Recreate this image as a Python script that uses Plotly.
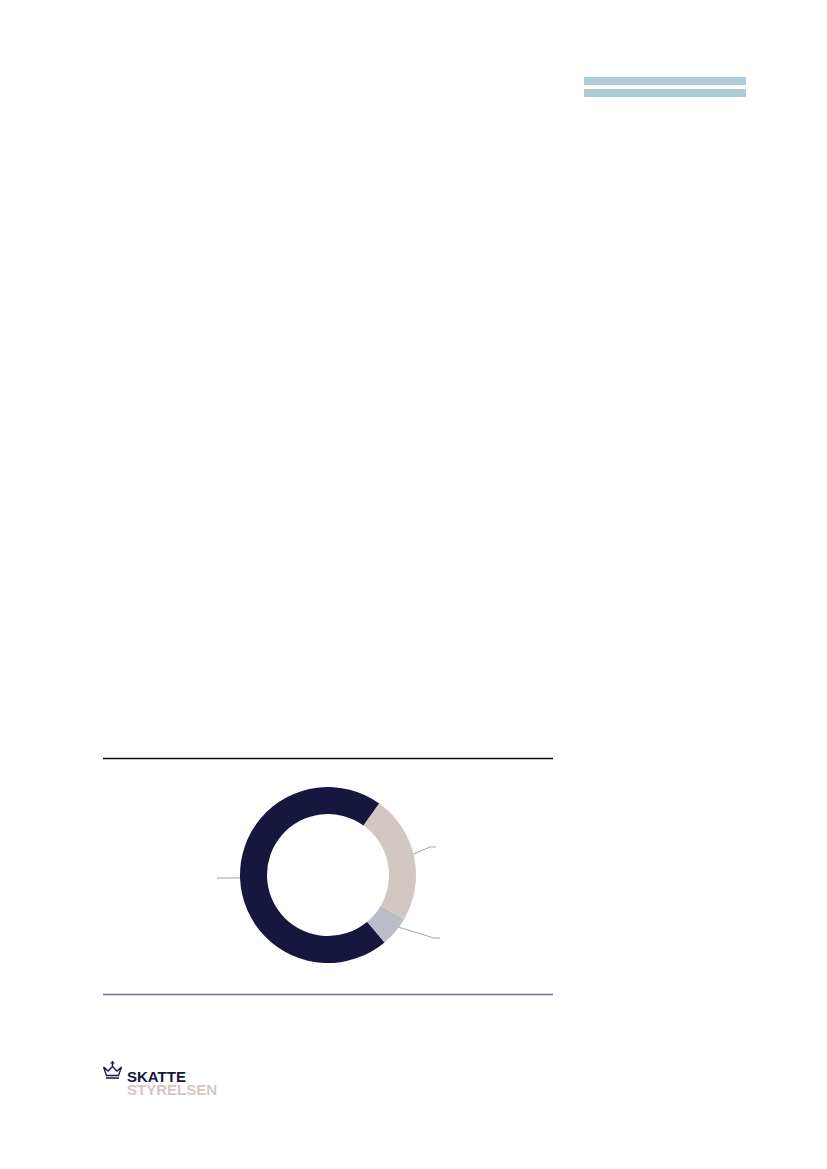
import numpy as np
import plotly.graph_objects as go

# data
labels = ["Kategori 1", "Kategori 2", "Kategori 3"]
values = [71.0, 23.5, 5.5]
colors = ["#16163f", "#d3c7c4", "#bbbcca"]

W, H = 827, 1169
OFF = 8  # the page body has an 8px margin, so work in page pixels
cx, cy, R_out, R_in = 328, 875, 88, 61
rotation = 140

# where the leader lines end (label anchors, page px)
anchors = [[(217, 878)], [(430, 847), (436, 847)], [(434, 938), (440, 938)]]

fig = go.Figure()

fig.add_trace(go.Pie(
    labels=labels, values=values, sort=False, direction="clockwise",
    rotation=rotation, hole=R_in / R_out, textinfo="none",
    marker=dict(colors=colors, line=dict(width=0)),
    domain=dict(x=[(cx - R_out - OFF) / W, (cx + R_out - OFF) / W],
                y=[1 - (cy + R_out - OFF) / H, 1 - (cy - R_out - OFF) / H]),
    showlegend=False))

# leader lines, starting mid-ring at each slice's middle angle
tot = sum(values)
start = rotation
r_mid = (R_out + R_in) / 2
for v, anc in zip(values, anchors):
    mid = np.radians(start + 360 * v / tot / 2)
    start += 360 * v / tot
    x0 = cx + r_mid * np.sin(mid)
    y0 = cy - r_mid * np.cos(mid)
    pts = [(x0, y0)] + anc
    fig.add_trace(go.Scatter(x=[p[0] for p in pts], y=[p[1] for p in pts],
                             mode="lines", line=dict(color="#a5a5a5", width=1),
                             hoverinfo="skip", showlegend=False))

shapes = [
    dict(type="rect", x0=584, x1=746, y0=77, y1=85, fillcolor="#aecbd8", line_width=0),
    dict(type="rect", x0=584, x1=746, y0=89, y1=97, fillcolor="#aecbd8", line_width=0),
    dict(type="line", x0=103, x1=553, y0=758.5, y1=758.5, line=dict(color="#111111", width=1.5)),
    dict(type="line", x0=103, x1=553, y0=994.5, y1=994.5, line=dict(color="#6f7090", width=1.5)),
    # crown
    dict(type="path", path="M 103.5 1067 L 106.5 1075.5 L 118.5 1075.5 L 121.5 1067 "
         "L 117 1071 L 112.5 1066.5 L 108 1071 Z", fillcolor="rgba(0,0,0,0)",
         line=dict(color="#16163f", width=1.3)),
    dict(type="line", x0=106, x1=119, y0=1078, y1=1078, line=dict(color="#16163f", width=1.5)),
    dict(type="line", x0=112.5, x1=112.5, y0=1061, y1=1066, line=dict(color="#16163f", width=1.5)),
    dict(type="line", x0=110.5, x1=114.5, y0=1063, y1=1063, line=dict(color="#16163f", width=1.2)),
]
for s in shapes:
    s.update(xref="x", yref="y", layer="above")

annotations = [
    dict(x=125.5, y=1076, text="<b>SKATTE</b>", xanchor="left", yanchor="middle",
         font=dict(family="Liberation Sans", size=15, color="#16163f")),
    dict(x=125.5, y=1088.5, text="<b>STYRELSEN</b>", xanchor="left", yanchor="middle",
         font=dict(family="Liberation Sans", size=15, color="#d3c7c4")),
]
for a in annotations:
    a.update(xref="x", yref="y", showarrow=False, height=12, valign="middle",
             borderpad=0)

fig.update_layout(
    width=W, height=H, margin=dict(l=0, r=0, t=0, b=0),
    paper_bgcolor="white", plot_bgcolor="white",
    xaxis=dict(range=[OFF, W + OFF], visible=False, fixedrange=True),
    yaxis=dict(range=[H + OFF, OFF], visible=False, fixedrange=True),
    shapes=shapes, annotations=annotations)

fig.write_html("out.html")
